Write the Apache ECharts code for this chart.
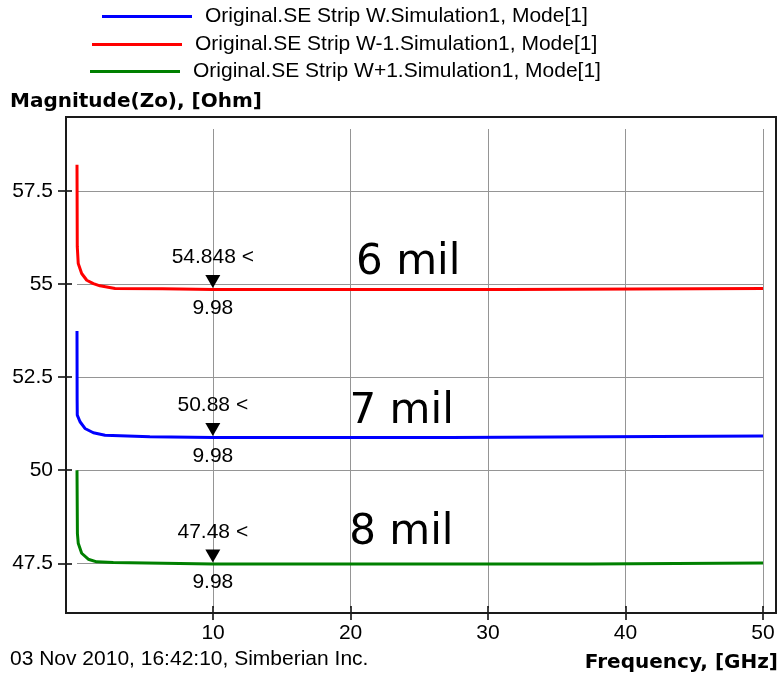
<!DOCTYPE html>
<html><head><meta charset="utf-8">
<script src="https://cdn.jsdelivr.net/npm/echarts@6/dist/echarts.min.js"></script>
<style>html,body{margin:0;padding:0;background:#fff}#c{width:781px;height:675px}</style>
</head><body><div id="c"></div>
<script>
// ---- data ----
const seriesNames = [
  'Original.SE Strip W.Simulation1, Mode[1]',
  'Original.SE Strip W-1.Simulation1, Mode[1]',
  'Original.SE Strip W+1.Simulation1, Mode[1]'
];
const seriesColors = ['#0000ff', '#ff0000', '#008000'];

const freqW  = [0.1, 0.11, 0.12, 0.32, 0.68, 1.29, 2.14, 5.4, 5.5, 9.98, 27.3, 27.4, 50];
const zoW    = [53.74, 51.88, 51.48, 51.30, 51.12, 51.005, 50.94, 50.90, 50.88, 50.88, 50.88, 50.915, 50.915];

const freqWm1 = [0.1, 0.12, 0.19, 0.44, 0.81, 1.29, 1.77, 2.87, 6.3, 6.4, 9.98, 31.6, 31.7, 50];
const zoWm1   = [58.2, 56.0, 55.55, 55.28, 55.10, 55.01, 54.95, 54.88, 54.87, 54.848, 54.848, 54.85, 54.875, 54.875];

const freqWp1 = [0.1, 0.13, 0.19, 0.44, 0.92, 1.53, 2.74, 2.87, 9.98, 37.4, 37.5, 50];
const zoWp1   = [50.0, 48.3, 48.04, 47.77, 47.61, 47.54, 47.52, 47.48, 47.48, 47.48, 47.505, 47.505];

const markerFreq = 9.98;
const markerValues = [50.88, 54.848, 47.48];
const markerLabels = ['50.88 <', '54.848 <', '47.48 <'];
const markerFreqLabel = '9.98';

const widthLabels = ['7 mil', '6 mil', '8 mil'];
const widthLabelAnchors = [[19.92, 51.55], [20.4, 55.57], [19.9, 48.30]];

const xTicks = [10, 20, 30, 40, 50];
const yTicks = [47.5, 50, 52.5, 55, 57.5];
const xRange = [0.1, 50];
const yRange = [46.3, 59.16];

const yTitle = 'Magnitude(Zo), [Ohm]';
const xTitle = 'Frequency, [GHz]';
const footer = '03 Nov 2010, 16:42:10, Simberian Inc.';

// ---- chart ----
const FONT = '"Liberation Sans", Arial, sans-serif';
const BOLD = '"DejaVu Sans", sans-serif';
const freqs = [freqW, freqWm1, freqWp1];
const vals = [zoW, zoWm1, zoWp1];

const chart = echarts.init(document.getElementById('c'), null, {renderer: 'canvas'});

const series = seriesNames.map((name, i) => ({
  name,
  type: 'line',
  xAxisIndex: 0,
  yAxisIndex: 0,
  data: freqs[i].map((f, k) => [f, vals[i][k]]),
  showSymbol: false,
  symbol: 'none',
  animation: false,
  lineStyle: {color: seriesColors[i], width: 3},
  itemStyle: {color: seriesColors[i]},
  z: 3,
  markPoint: {
    animation: false,
    silent: true,
    data: [
      {
        coord: [markerFreq, markerValues[i]],
        symbol: 'triangle',
        symbolRotate: 180,
        symbolSize: [15, 13],
        symbolOffset: [0, -8],
        itemStyle: {color: '#000'},
        label: {show: true, position: 'top', distance: 7, formatter: markerLabels[i],
                color: '#000', fontFamily: FONT, fontSize: 21}
      },
      {
        coord: [markerFreq, markerValues[i]],
        symbol: 'circle',
        symbolSize: 0,
        label: {show: true, position: 'bottom', distance: 8, formatter: markerFreqLabel,
                color: '#000', fontFamily: FONT, fontSize: 21}
      },
      {
        coord: widthLabelAnchors[i],
        symbol: 'circle',
        symbolSize: 0,
        label: {show: true, position: [0, 0], align: 'left', verticalAlign: 'middle',
                formatter: widthLabels[i], color: '#000',
                fontFamily: '"DejaVu Sans", Verdana, sans-serif', fontSize: 42}
      }
    ]
  }
}));

const legendLefts = [102, 92, 90];
const legendTops = [6, 34, 61];
const legends = seriesNames.map((name, i) => ({
  data: [name],
  left: legendLefts[i],
  top: legendTops[i],
  padding: 0,
  icon: 'rect',
  itemWidth: 90,
  itemHeight: 3,
  selectedMode: false,
  textStyle: {fontFamily: FONT, fontSize: 21, color: '#000', padding: [0, 0, 0, 8]}
}));

const axisCommonX = {
  type: 'value', position: 'bottom', min: xRange[0], max: xRange[1], offset: 5,
  axisLine: {show: false}
};
const axisCommonY = {
  type: 'value', position: 'left', min: yRange[0], max: yRange[1], offset: 11,
  axisLine: {show: false}
};

chart.setOption({
  animation: false,
  backgroundColor: '#fff',
  grid: {left: 77, right: 18, top: 129, bottom: 67, containLabel: false},
  legend: legends,
  xAxis: [
    Object.assign({}, axisCommonX, {
      axisTick: {show: true, customValues: xTicks, length: 7, lineStyle: {color: '#000', width: 1.5}},
      axisLabel: {show: true, customValues: xTicks, margin: 10, color: '#000', fontFamily: FONT, fontSize: 21},
      splitLine: {show: true, lineStyle: {color: '#959595', width: 1}}
    }),
    Object.assign({}, axisCommonX, {
      axisTick: {show: true, inside: true, customValues: xTicks, length: 7, lineStyle: {color: '#000', width: 1.5}},
      axisLabel: {show: false},
      splitLine: {show: false}
    })
  ],
  yAxis: [
    Object.assign({}, axisCommonY, {
      axisTick: {show: true, customValues: yTicks, length: 8, lineStyle: {color: '#000', width: 1.5}},
      axisLabel: {show: true, customValues: yTicks, margin: 13, color: '#000', fontFamily: FONT, fontSize: 21},
      splitLine: {show: true, lineStyle: {color: '#959595', width: 1}}
    }),
    Object.assign({}, axisCommonY, {
      axisTick: {show: true, inside: true, customValues: yTicks, length: 6, lineStyle: {color: '#000', width: 1.5}},
      axisLabel: {show: false},
      splitLine: {show: false}
    })
  ],
  graphic: [
    {type: 'rect', shape: {x: 66, y: 117, width: 710, height: 496}, silent: true,
     style: {fill: null, stroke: '#1a1a1a', lineWidth: 2}, z: 10},
    {type: 'text', left: 10, top: 92, silent: true,
     style: {text: yTitle, fill: '#000', font: 'bold 20px ' + BOLD}},
    {type: 'text', right: 3, top: 653, silent: true,
     style: {text: xTitle, fill: '#000', font: 'bold 20px ' + BOLD}},
    {type: 'text', left: 10, top: 649, silent: true,
     style: {text: footer, fill: '#000', font: '21px ' + FONT}}
  ],
  series
});
</script>
</body></html>
